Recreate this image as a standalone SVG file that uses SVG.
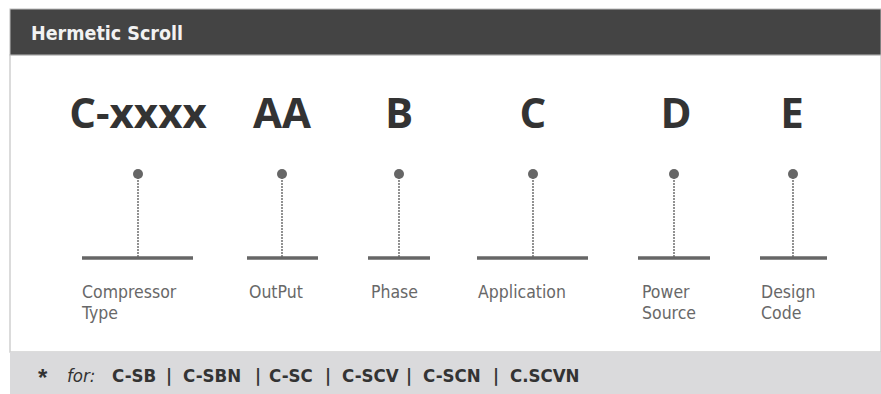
<svg xmlns="http://www.w3.org/2000/svg" width="881" height="394" viewBox="0 0 881 394">
<style>
.code{font-family:"Open Sans","Noto Sans",sans-serif;font-weight:bold;font-size:42px;fill:#333;text-anchor:middle}
.lbl{font-family:"DejaVu Sans Condensed","DejaVu Sans",sans-serif;font-stretch:condensed;font-size:17.5px;fill:#686868}
.ft{font-family:"DejaVu Sans Condensed","DejaVu Sans",sans-serif;font-stretch:condensed;font-size:18.5px;fill:#333;font-weight:bold}
.it{font-weight:normal;font-style:italic}
.stem{stroke:#777;stroke-width:1.6;stroke-dasharray:2 1}
.base{stroke:#666;stroke-width:3.5}
.dot{fill:#666}
</style>
<rect x="0" y="0" width="881" height="394" fill="#fff"/>
<rect x="10" y="55" width="871" height="297" fill="#fff" stroke="#d0d0d0" stroke-width="1.5"/>
<g id="header">
<rect x="10" y="9" width="871" height="46" fill="#444" stroke="#bbb" stroke-width="1"/>
<text x="31" y="40" font-family="DejaVu Sans Condensed,DejaVu Sans,sans-serif" font-stretch="condensed" font-weight="bold" font-size="19.5" fill="#f2f2f2">Hermetic Scroll</text>
</g>
<g id="footer">
<rect x="10" y="352" width="871" height="42" fill="#dadadc"/>
<text x="38" y="386" font-family="Liberation Sans,Arial,sans-serif" font-weight="bold" font-size="24" fill="#333">*</text>
<text class="ft it" x="67" y="382">for:</text>
<text class="ft" x="112" y="382">C-SB</text>
<text class="ft" x="166" y="382">|</text>
<text class="ft" x="183" y="382">C-SBN</text>
<text class="ft" x="255" y="382">|</text>
<text class="ft" x="269" y="382">C-SC</text>
<text class="ft" x="325" y="382">|</text>
<text class="ft" x="342" y="382">C-SCV</text>
<text class="ft" x="406" y="382">|</text>
<text class="ft" x="423" y="382">C-SCN</text>
<text class="ft" x="493" y="382">|</text>
<text class="ft" x="510" y="382">C.SCVN</text>
</g>
<g id="connectors">
<line class="stem" x1="138" y1="174" x2="138" y2="257"/>
<line class="base" x1="82" y1="258" x2="193" y2="258"/>
<line class="stem" x1="282" y1="174" x2="282" y2="257"/>
<line class="base" x1="247" y1="258" x2="318" y2="258"/>
<line class="stem" x1="399" y1="174" x2="399" y2="257"/>
<line class="base" x1="368" y1="258" x2="430" y2="258"/>
<line class="stem" x1="533" y1="174" x2="533" y2="257"/>
<line class="base" x1="477" y1="258" x2="588" y2="258"/>
<line class="stem" x1="674" y1="174" x2="674" y2="257"/>
<line class="base" x1="638" y1="258" x2="710" y2="258"/>
<line class="stem" x1="793" y1="174" x2="793" y2="257"/>
<line class="base" x1="760" y1="258" x2="827" y2="258"/>
</g>
<g id="node-type">
<text class="code" x="138" y="128">C-xxxx</text>
<circle class="dot" cx="138" cy="174" r="5"/>
<text class="lbl" x="82" y="298">Compressor<tspan x="82" dy="20.5">Type</tspan></text>
</g>
<g id="node-output">
<text class="code" x="282" y="128">AA</text>
<circle class="dot" cx="282" cy="174" r="5"/>
<text class="lbl" x="249" y="298">OutPut</text>
</g>
<g id="node-phase">
<text class="code" x="399" y="128">B</text>
<circle class="dot" cx="399" cy="174" r="5"/>
<text class="lbl" x="371" y="298">Phase</text>
</g>
<g id="node-application">
<text class="code" x="533" y="128">C</text>
<circle class="dot" cx="533" cy="174" r="5"/>
<text class="lbl" x="478" y="298">Application</text>
</g>
<g id="node-power">
<text class="code" x="676" y="128">D</text>
<circle class="dot" cx="674" cy="174" r="5"/>
<text class="lbl" x="642" y="298">Power<tspan x="642" dy="20.5">Source</tspan></text>
</g>
<g id="node-design">
<text class="code" x="792" y="128">E</text>
<circle class="dot" cx="793" cy="174" r="5"/>
<text class="lbl" x="761" y="298">Design<tspan x="761" dy="20.5">Code</tspan></text>
</g>
</svg>
